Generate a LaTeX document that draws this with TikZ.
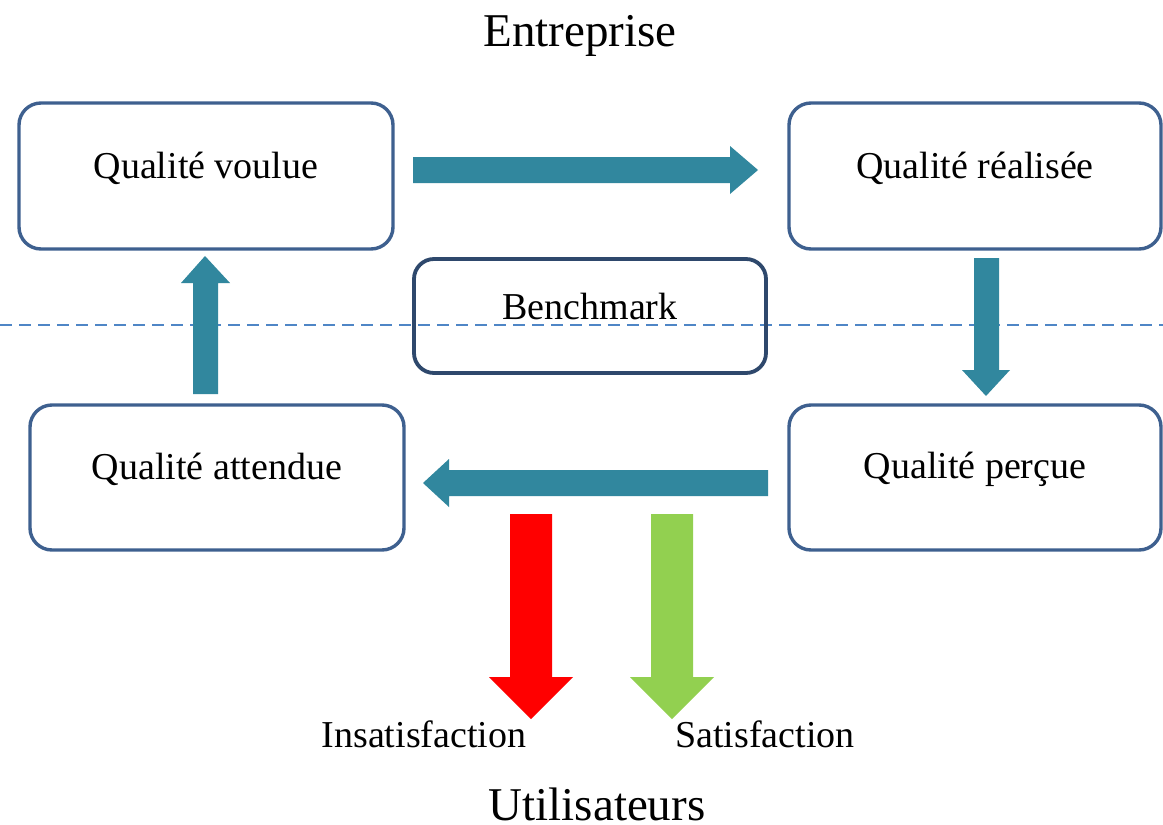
\documentclass[tikz,border=0pt]{standalone}
\usepackage{fontspec}
\setmainfont{Liberation Serif}
\definecolor{boxline}{RGB}{62,96,143}
\definecolor{benchline}{RGB}{46,72,108}
\definecolor{teal}{RGB}{49,135,158}
\definecolor{dashblue}{RGB}{79,134,198}
\definecolor{okgreen}{RGB}{146,208,80}
\begin{document}
\begin{tikzpicture}[x=1pt,y=-1pt,
  qbox/.style={draw=boxline,line width=3.4pt,rounded corners=22pt,fill=white},
  boxtext/.style={font=\fontsize{38}{41}\selectfont},
  titletext/.style={font=\fontsize{47}{50}\selectfont,inner sep=0pt},
  blockarrow/.style={fill=teal,draw=none}]
\useasboundingbox (0,0) rectangle (1163,825);
\fill[white] (0,0) rectangle (1163,825);
% dashed separator
\draw[dashblue,line width=1.3pt,dash pattern=on 12pt off 7pt] (0,325) -- (1163,325);
% boxes
\draw[qbox] (19,103) rectangle (393,249);
\draw[qbox] (789,103) rectangle (1161,249);
\draw[qbox] (30,405) rectangle (404,550);
\draw[qbox] (789,405) rectangle (1161,550);
\draw[draw=benchline,line width=3.8pt,rounded corners=20pt] (414,259) rectangle (766,373);
\node[boxtext] (voulue) at (206,168) {Qualité voulue};
\node[boxtext] (realisee) at (975,168) {Qualité réalisée};
\node[boxtext] (attendue) at (217,469) {Qualité attendue};
\node[boxtext] (percue) at (975,469) {Qualité perçue};
\node[boxtext] (bench) at (590,306) {Benchmark};
% titles
\node[titletext] (entreprise) at (580,36) {Entreprise};
\node[titletext,anchor=base] (util) at (597,820) {Utilisateurs};
\node[boxtext,anchor=base] (insat) at (424,747) {Insatisfaction};
\node[boxtext,anchor=base] (sat) at (765,747) {Satisfaction};
% teal arrows
\fill[blockarrow] (413,157) -- (730,157) -- (730,146) -- (758,170) -- (730,194) -- (730,183) -- (413,183) -- cycle;
\fill[blockarrow] (974,258) -- (999,258) -- (999,370) -- (1010,370) -- (986,396) -- (962,370) -- (974,370) -- cycle;
\fill[blockarrow] (768,470) -- (449,470) -- (449,459) -- (423,483) -- (449,507) -- (449,496) -- (768,496) -- cycle;
\fill[blockarrow] (193,394) -- (193,283) -- (181,283) -- (205,256) -- (230,283) -- (218,283) -- (218,394) -- cycle;
% satisfaction arrows
\fill[red] (510,514) -- (552,514) -- (552,677) -- (573,677) -- (531,719) -- (489,677) -- (510,677) -- cycle;
\fill[okgreen] (651,514) -- (693,514) -- (693,677) -- (714,677) -- (672,719) -- (630,677) -- (651,677) -- cycle;
\end{tikzpicture}
\end{document}
